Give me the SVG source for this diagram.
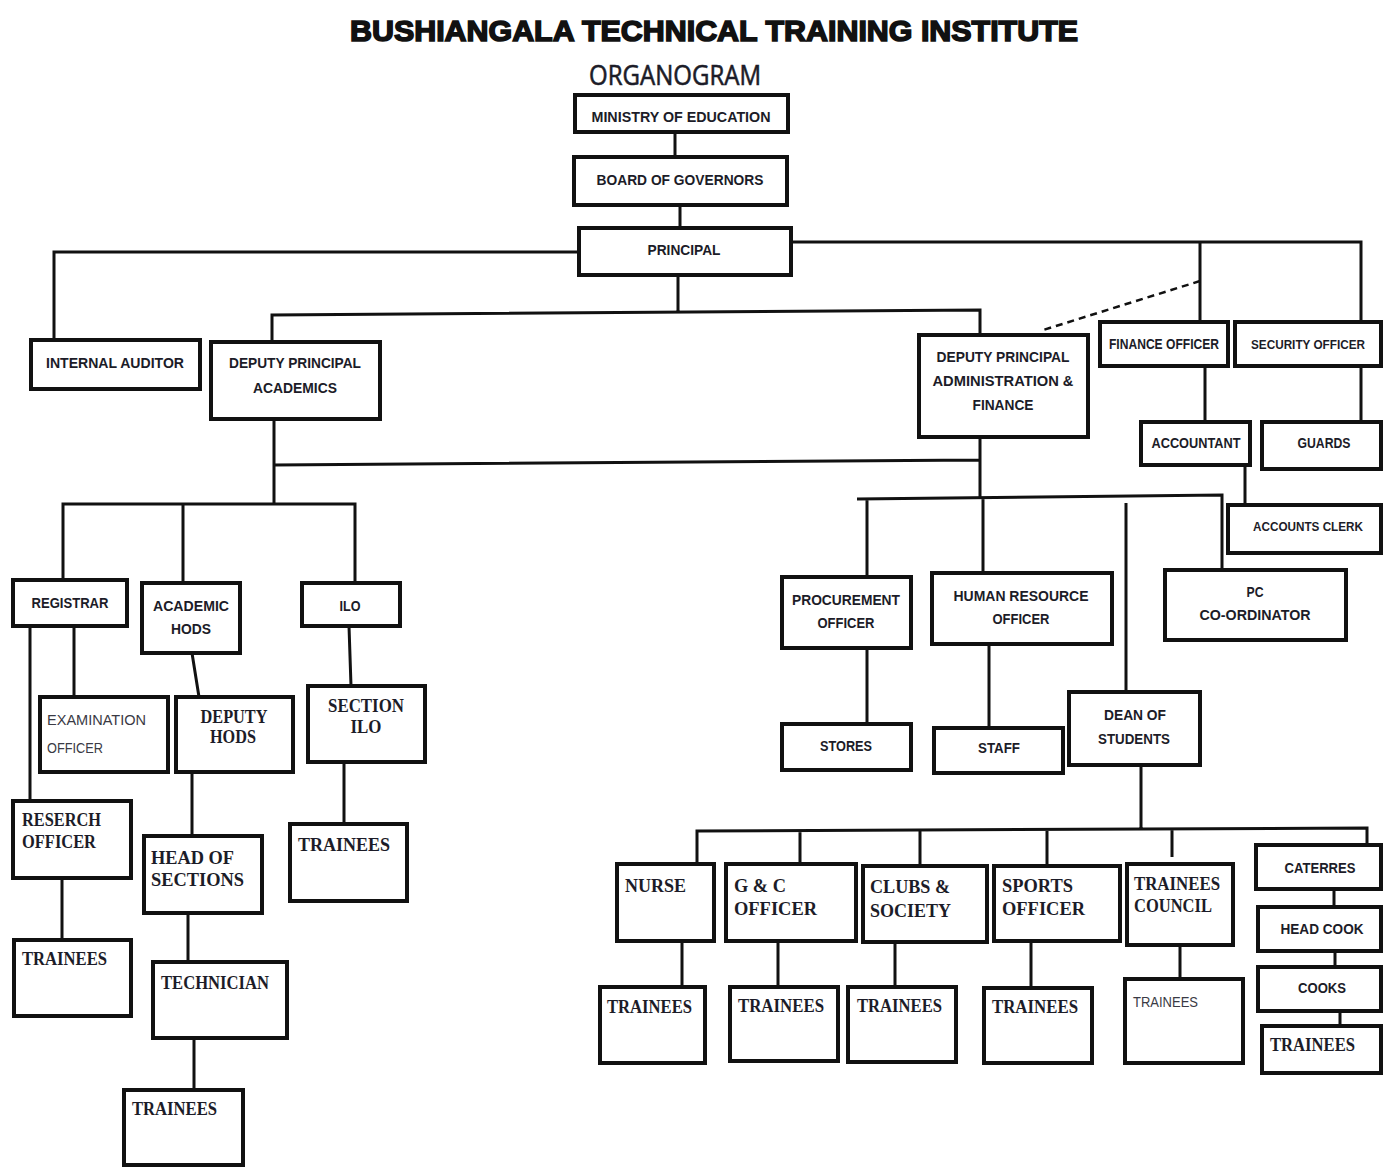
<svg xmlns="http://www.w3.org/2000/svg" width="1384" height="1167" viewBox="0 0 1384 1167">
<style>
.bx{fill:#fff;stroke:#111;stroke-width:4}
.ln{fill:none;stroke:#111;stroke-width:3}
.dash{fill:none;stroke:#111;stroke-width:2.5;stroke-dasharray:7 5}
.s{font-family:"Liberation Sans",Arial,sans-serif;font-weight:bold;font-size:15px;fill:#1c1c28;text-anchor:middle}
.sm{font-size:13px}
.sl{font-family:"Liberation Sans",Arial,sans-serif;font-size:15px;fill:#3a3a44}
.t{font-family:"Liberation Serif","Times New Roman",serif;font-weight:bold;font-size:18px;fill:#1c1c28}
.tc{text-anchor:middle}
</style>
<rect width="1384" height="1167" fill="#fff"/>
<text x="714" y="41" font-family="Liberation Sans,Arial,sans-serif" font-weight="900" font-size="30" fill="#111" stroke="#111" stroke-width="1.6" text-anchor="middle" textLength="728" lengthAdjust="spacingAndGlyphs">BUSHIANGALA TECHNICAL TRAINING INSTITUTE</text>
<text x="675" y="85" font-family="Open Sans,Liberation Sans,sans-serif" font-size="28" fill="#1c1c28" stroke="#1c1c28" stroke-width="0.6" text-anchor="middle" textLength="172" lengthAdjust="spacingAndGlyphs">ORGANOGRAM</text>

<g id="connectors">
<path class="ln" d="M675,132V157M680,205V228"/>
<path class="ln" d="M579,252H54V340"/>
<path class="ln" d="M791,242H1361V322M1200,242V322"/>
<path class="dash" d="M1200,281L1040,331"/>
<path class="ln" d="M678,275V313M272,342V315L980,310V335"/>
<path class="ln" d="M274,419V503M274,465L980,460M980,437V497"/>
<path class="ln" d="M63,580V504H355V583M183,504V583"/>
<path class="ln" d="M30,626V801M74,626V697"/>
<path class="ln" d="M192,653L199,697M349,626L351,686"/>
<path class="ln" d="M192,772V836M344,762V824M62,878V940M188,913V962M194,1038V1090"/>
<path class="ln" d="M1205,366V422M1361,366V422M1245,465V505"/>
<path class="ln" d="M857,499L1222,495V570M867,499V577M983,498V573M1126,503V692"/>
<path class="ln" d="M867,648V724M989,644V728"/>
<path class="ln" d="M1141,765V830M697,864V831L1367,828V845M800,831V864M920,830V866M1047,830V866M1172,829V857"/>
<path class="ln" d="M1334,889V907M1335,951V967M1340,1011V1026"/>
<path class="ln" d="M682,941V987M778,941V987M895,942V987M1031,941V988M1180,945V979"/>
</g>

<g id="ministry"><rect class="bx" x="575" y="95" width="213" height="37"/><text class="s" x="681" y="122" textLength="179" lengthAdjust="spacingAndGlyphs">MINISTRY OF EDUCATION</text></g>
<g id="board"><rect class="bx" x="574" y="157" width="213" height="48"/><text class="s" x="680" y="185" textLength="167" lengthAdjust="spacingAndGlyphs">BOARD OF GOVERNORS</text></g>
<g id="principal"><rect class="bx" x="579" y="228" width="212" height="47"/><text class="s" x="684" y="255" textLength="73" lengthAdjust="spacingAndGlyphs">PRINCIPAL</text></g>
<g id="internal-auditor"><rect class="bx" x="31" y="340" width="169" height="49"/><text class="s" x="115" y="368" textLength="138" lengthAdjust="spacingAndGlyphs">INTERNAL AUDITOR</text></g>
<g id="dp-academics"><rect class="bx" x="211" y="342" width="169" height="77"/><text class="s" x="295" y="368" textLength="132" lengthAdjust="spacingAndGlyphs">DEPUTY PRINCIPAL</text><text class="s" x="295" y="393" textLength="84" lengthAdjust="spacingAndGlyphs">ACADEMICS</text></g>
<g id="dp-admin"><rect class="bx" x="919" y="335" width="169" height="102"/><text class="s" x="1003" y="362" textLength="133" lengthAdjust="spacingAndGlyphs">DEPUTY PRINCIPAL</text><text class="s" x="1003" y="386" textLength="141" lengthAdjust="spacingAndGlyphs">ADMINISTRATION &amp;</text><text class="s" x="1003" y="410" textLength="61" lengthAdjust="spacingAndGlyphs">FINANCE</text></g>
<g id="finance-officer"><rect class="bx" x="1100" y="322" width="128" height="44"/><text class="s" x="1164" y="349" textLength="110" lengthAdjust="spacingAndGlyphs">FINANCE OFFICER</text></g>
<g id="security-officer"><rect class="bx" x="1235" y="322" width="146" height="44"/><text class="s sm" x="1308" y="349" textLength="114" lengthAdjust="spacingAndGlyphs">SECURITY OFFICER</text></g>
<g id="accountant"><rect class="bx" x="1141" y="422" width="109" height="43"/><text class="s" x="1196" y="448" textLength="89" lengthAdjust="spacingAndGlyphs">ACCOUNTANT</text></g>
<g id="guards"><rect class="bx" x="1262" y="422" width="119" height="47"/><text class="s" x="1324" y="448" textLength="53" lengthAdjust="spacingAndGlyphs">GUARDS</text></g>
<g id="accounts-clerk"><rect class="bx" x="1228" y="505" width="153" height="48"/><text class="s sm" x="1308" y="531" textLength="110" lengthAdjust="spacingAndGlyphs">ACCOUNTS CLERK</text></g>

<g id="registrar"><rect class="bx" x="13" y="580" width="114" height="46"/><text class="s" x="70" y="608" textLength="77" lengthAdjust="spacingAndGlyphs">REGISTRAR</text></g>
<g id="academic-hods"><rect class="bx" x="142" y="583" width="98" height="70"/><text class="s" x="191" y="611" textLength="76" lengthAdjust="spacingAndGlyphs">ACADEMIC</text><text class="s" x="191" y="634" textLength="40" lengthAdjust="spacingAndGlyphs">HODS</text></g>
<g id="ilo"><rect class="bx" x="302" y="583" width="98" height="43"/><text class="s" x="350" y="611" textLength="21" lengthAdjust="spacingAndGlyphs">ILO</text></g>
<g id="examination-officer"><rect class="bx" x="40" y="697" width="128" height="75"/><text class="sl" x="47" y="725" textLength="99" lengthAdjust="spacingAndGlyphs">EXAMINATION</text><text class="sl" x="47" y="753" textLength="56" lengthAdjust="spacingAndGlyphs">OFFICER</text></g>
<g id="deputy-hods"><rect class="bx" x="176" y="697" width="117" height="75"/><text class="t tc" x="234" y="723" textLength="67" lengthAdjust="spacingAndGlyphs">DEPUTY</text><text class="t tc" x="233" y="743" textLength="46" lengthAdjust="spacingAndGlyphs">HODS</text></g>
<g id="section-ilo"><rect class="bx" x="308" y="686" width="117" height="76"/><text class="t tc" x="366" y="712" textLength="76" lengthAdjust="spacingAndGlyphs">SECTION</text><text class="t tc" x="366" y="733" textLength="31" lengthAdjust="spacingAndGlyphs">ILO</text></g>
<g id="research-officer"><rect class="bx" x="13" y="801" width="118" height="77"/><text class="t" x="22" y="826" textLength="79" lengthAdjust="spacingAndGlyphs">RESERCH</text><text class="t" x="22" y="848" textLength="74" lengthAdjust="spacingAndGlyphs">OFFICER</text></g>
<g id="head-of-sections"><rect class="bx" x="144" y="836" width="118" height="77"/><text class="t" x="151" y="864" textLength="83" lengthAdjust="spacingAndGlyphs">HEAD OF</text><text class="t" x="151" y="886" textLength="93" lengthAdjust="spacingAndGlyphs">SECTIONS</text></g>
<g id="trainees-ilo"><rect class="bx" x="290" y="824" width="117" height="77"/><text class="t" x="298" y="851" textLength="92" lengthAdjust="spacingAndGlyphs">TRAINEES</text></g>
<g id="trainees-research"><rect class="bx" x="14" y="940" width="117" height="76"/><text class="t" x="22" y="965" textLength="85" lengthAdjust="spacingAndGlyphs">TRAINEES</text></g>
<g id="technician"><rect class="bx" x="153" y="962" width="134" height="76"/><text class="t" x="161" y="989" textLength="108" lengthAdjust="spacingAndGlyphs">TECHNICIAN</text></g>
<g id="trainees-technician"><rect class="bx" x="124" y="1090" width="119" height="75"/><text class="t" x="132" y="1115" textLength="85" lengthAdjust="spacingAndGlyphs">TRAINEES</text></g>

<g id="procurement-officer"><rect class="bx" x="782" y="577" width="129" height="71"/><text class="s" x="846" y="605" textLength="108" lengthAdjust="spacingAndGlyphs">PROCUREMENT</text><text class="s" x="846" y="628" textLength="57" lengthAdjust="spacingAndGlyphs">OFFICER</text></g>
<g id="hr-officer"><rect class="bx" x="932" y="573" width="180" height="71"/><text class="s" x="1021" y="601" textLength="135" lengthAdjust="spacingAndGlyphs">HUMAN RESOURCE</text><text class="s" x="1021" y="624" textLength="57" lengthAdjust="spacingAndGlyphs">OFFICER</text></g>
<g id="pc-coordinator"><rect class="bx" x="1165" y="570" width="181" height="70"/><text class="s" x="1255" y="597" textLength="17" lengthAdjust="spacingAndGlyphs">PC</text><text class="s" x="1255" y="620" textLength="111" lengthAdjust="spacingAndGlyphs">CO-ORDINATOR</text></g>
<g id="stores"><rect class="bx" x="782" y="724" width="129" height="46"/><text class="s" x="846" y="751" textLength="52" lengthAdjust="spacingAndGlyphs">STORES</text></g>
<g id="staff"><rect class="bx" x="934" y="728" width="129" height="45"/><text class="s" x="999" y="753" textLength="42" lengthAdjust="spacingAndGlyphs">STAFF</text></g>
<g id="dean-of-students"><rect class="bx" x="1069" y="692" width="131" height="73"/><text class="s" x="1135" y="720" textLength="62" lengthAdjust="spacingAndGlyphs">DEAN OF</text><text class="s" x="1134" y="744" textLength="72" lengthAdjust="spacingAndGlyphs">STUDENTS</text></g>

<g id="nurse"><rect class="bx" x="617" y="864" width="97" height="77"/><text class="t" x="625" y="892" textLength="61" lengthAdjust="spacingAndGlyphs">NURSE</text></g>
<g id="gc-officer"><rect class="bx" x="726" y="864" width="130" height="77"/><text class="t" x="734" y="892" textLength="52" lengthAdjust="spacingAndGlyphs">G &amp; C</text><text class="t" x="734" y="915" textLength="83" lengthAdjust="spacingAndGlyphs">OFFICER</text></g>
<g id="clubs-society"><rect class="bx" x="863" y="866" width="124" height="76"/><text class="t" x="870" y="893" textLength="80" lengthAdjust="spacingAndGlyphs">CLUBS &amp;</text><text class="t" x="870" y="917" textLength="81" lengthAdjust="spacingAndGlyphs">SOCIETY</text></g>
<g id="sports-officer"><rect class="bx" x="994" y="866" width="126" height="75"/><text class="t" x="1002" y="892" textLength="71" lengthAdjust="spacingAndGlyphs">SPORTS</text><text class="t" x="1002" y="915" textLength="83" lengthAdjust="spacingAndGlyphs">OFFICER</text></g>
<g id="trainees-council"><rect class="bx" x="1127" y="864" width="106" height="81"/><text class="t" x="1134" y="890" textLength="86" lengthAdjust="spacingAndGlyphs">TRAINEES</text><text class="t" x="1134" y="912" textLength="78" lengthAdjust="spacingAndGlyphs">COUNCIL</text></g>
<g id="caterres"><rect class="bx" x="1256" y="845" width="125" height="44"/><text class="s" x="1320" y="873" textLength="71" lengthAdjust="spacingAndGlyphs">CATERRES</text></g>
<g id="head-cook"><rect class="bx" x="1258" y="907" width="123" height="44"/><text class="s" x="1322" y="934" textLength="83" lengthAdjust="spacingAndGlyphs">HEAD COOK</text></g>
<g id="cooks"><rect class="bx" x="1258" y="967" width="123" height="44"/><text class="s" x="1322" y="993" textLength="48" lengthAdjust="spacingAndGlyphs">COOKS</text></g>
<g id="trainees-cooks"><rect class="bx" x="1262" y="1026" width="119" height="47"/><text class="t" x="1270" y="1051" textLength="85" lengthAdjust="spacingAndGlyphs">TRAINEES</text></g>
<g id="trainees-nurse"><rect class="bx" x="600" y="987" width="105" height="76"/><text class="t" x="607" y="1013" textLength="85" lengthAdjust="spacingAndGlyphs">TRAINEES</text></g>
<g id="trainees-gc"><rect class="bx" x="730" y="987" width="108" height="74"/><text class="t" x="738" y="1012" textLength="86" lengthAdjust="spacingAndGlyphs">TRAINEES</text></g>
<g id="trainees-clubs"><rect class="bx" x="848" y="987" width="108" height="75"/><text class="t" x="857" y="1012" textLength="85" lengthAdjust="spacingAndGlyphs">TRAINEES</text></g>
<g id="trainees-sports"><rect class="bx" x="984" y="988" width="108" height="75"/><text class="t" x="992" y="1013" textLength="86" lengthAdjust="spacingAndGlyphs">TRAINEES</text></g>
<g id="trainees-council-members"><rect class="bx" x="1125" y="979" width="118" height="84"/><text class="sl" x="1133" y="1007" textLength="65" lengthAdjust="spacingAndGlyphs">TRAINEES</text></g>
</svg>
